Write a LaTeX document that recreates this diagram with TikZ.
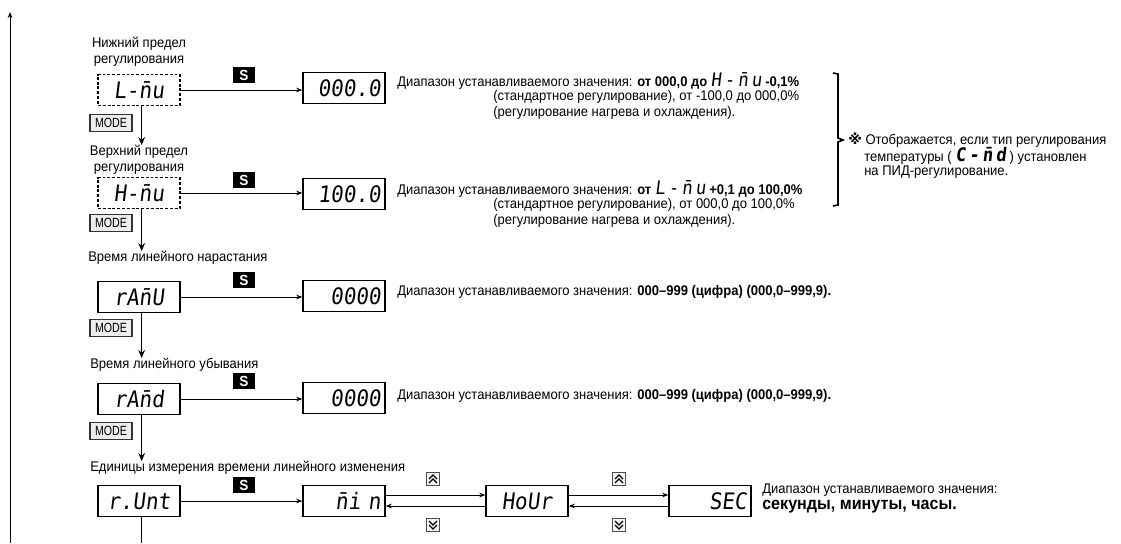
\documentclass[tikz,border=0pt]{standalone}
\usepackage{fontspec}
\setmainfont[FakeStretch=0.93]{Liberation Sans}
\newfontfamily\narrowfont[FakeStretch=0.8]{Liberation Sans}
\newfontfamily\segfont[FakeSlant=0.12,FakeStretch=0.92]{DejaVu Sans Mono}
\newfontfamily\symfont{DejaVu Sans}
\usetikzlibrary{arrows.meta}
\newcommand\nb{\={n}}
\begin{document}
\begin{tikzpicture}[x=0.75pt,y=-0.75pt,
  every node/.style={inner sep=0pt},
  txt/.style={anchor=west,font=\fontsize{10.5}{12}\selectfont},
  lab/.style={font=\fontsize{10.5}{12}\selectfont,align=center},
  disp/.style={draw,line width=1.1pt,minimum height=23pt,text width=55pt,inner xsep=3.25pt,
     font=\segfont\fontsize{17}{17}\selectfont},
  dispc/.style={disp,align=center},
  dispr/.style={disp,align=right},
  dashbox/.style={dispc,dash pattern=on 2.2pt off 1.4pt},
  modebtn/.style={draw=black!80,line width=0.9pt,fill=black!7,minimum width=31.5pt,minimum height=12.5pt,
     font=\narrowfont\fontsize{10}{10}\selectfont},
  sbtn/.style={fill=black,text=white,minimum width=16.5pt,minimum height=12pt,font=\bfseries\fontsize{11}{11}\selectfont},
  arbtn/.style={draw=black!70,line width=0.8pt,fill=black!4,minimum width=10pt,minimum height=9.5pt},
  conn/.style={line width=0.75pt,-{Stealth[length=4.5pt,width=3.5pt]}},
  darrow/.style={line width=0.9pt,-{Stealth[length=6pt,width=5pt]}},
  chev/.style={line width=1pt,line join=miter},
  seginl/.style={}
]
\useasboundingbox (0,0) rectangle (1121,543);
% left frame line
\coordinate (ltop) at (10,12);
\coordinate (lbot) at (10,543);
\draw[conn] (lbot) -- (ltop);
% row 1
\node[lab] (lab1) at (139,52) {Нижний предел\\регулирования};
\node[dashbox] (L) at (139,90) {L-\nb u};
\node[sbtn] (S1) at (244,75) {S};
\node[dispr] (V1) at (344,88) {000.0};
\node[modebtn] (M1) at (111,123) {MODE};
\draw[conn] (L.east) -- (L.east -| V1.west);
% row 2
\node[lab] (lab2) at (139,160) {Верхний предел\\регулирования};
\draw[darrow] ([xshift=2pt]L.south) -- ([xshift=2pt]L.south |- lab2.north);
\node[dashbox] (H) at (139,193) {H-\nb u};
\node[sbtn] (S2) at (244,180) {S};
\node[dispr] (V2) at (344,194) {100.0};
\node[modebtn] (M2) at (111,223) {MODE};
\draw[conn] (H.east) -- (H.east -| V2.west);
% row 3
\node[txt] (lab3) at (88,258) {Время линейного нарастания};
\draw[darrow] ([xshift=2pt]H.south) -- ([xshift=2pt]H.south |- lab3.north);
\node[dispc] (RU) at (139,297) {rA\nb U};
\node[sbtn] (S3) at (244,280) {S};
\node[dispr] (V3) at (344,296) {0000};
\node[modebtn] (M3) at (111,328) {MODE};
\draw[conn] (RU.east) -- (RU.east -| V3.west);
% row 4
\node[txt] (lab4) at (90,365) {Время линейного убывания};
\draw[darrow] ([xshift=2pt]RU.south) -- ([xshift=2pt]RU.south |- lab4.north);
\node[dispc] (RD) at (139,399) {rA\nb d};
\node[sbtn] (S4) at (244,381) {S};
\node[dispr] (V4) at (344,398) {0000};
\node[modebtn] (M4) at (111,431) {MODE};
\draw[conn] (RD.east) -- (RD.east -| V4.west);
% row 5
\node[txt] (lab5) at (90,468) {Единицы измерения времени линейного изменения};
\draw[darrow] ([xshift=2pt]RD.south) -- ([xshift=2pt]RD.south |- lab5.north);
\node[dispc] (RT) at (139,501) {r.Unt};
\node[sbtn] (S5) at (244,485) {S};
\node[dispr] (MN) at (344,501) {\nb i n};
\node[dispc] (HR) at (527,501) {HoUr};
\node[dispr] (SE) at (710,501) {SEC};
\draw[conn] (RT.east) -- (RT.east -| MN.west);
\coordinate (rbot) at (142,543);
\draw[line width=0.9pt] ([xshift=2pt]RT.south) -- ([xshift=2pt]RT.south |- rbot);
% double arrows
\draw[conn] ([yshift=4.5pt]MN.east) -- ([yshift=4.5pt]MN.east -| HR.west);
\draw[conn] ([yshift=-3.75pt]HR.west) -- ([yshift=-3.75pt]HR.west -| MN.east);
\draw[conn] ([yshift=4.5pt]HR.east) -- ([yshift=4.5pt]HR.east -| SE.west);
\draw[conn] ([yshift=-3.75pt]SE.west) -- ([yshift=-3.75pt]SE.west -| HR.east);
\node[arbtn] (U1) at (433,479) {};
\node[arbtn] (D1) at (433,525) {};
\node[arbtn] (U2) at (619,479) {};
\node[arbtn] (D2) at (619,525) {};
\foreach \b in {U1,U2}{
  \draw[chev] ([shift={(-4,0)}]\b.center) -- ([shift={(0,-4)}]\b.center) -- ([shift={(4,0)}]\b.center);
  \draw[chev] ([shift={(-4,4)}]\b.center) -- ([shift={(0,0)}]\b.center) -- ([shift={(4,4)}]\b.center);
}
\foreach \b in {D1,D2}{
  \draw[chev] ([shift={(-4,0)}]\b.center) -- ([shift={(0,4)}]\b.center) -- ([shift={(4,0)}]\b.center);
  \draw[chev] ([shift={(-4,-4)}]\b.center) -- ([shift={(0,0)}]\b.center) -- ([shift={(4,-4)}]\b.center);
}
% texts
\node[txt] (t11) at (397,81) {Диапазон устанавливаемого значения: \textbf{от 000,0 до} {\segfont\fontsize{14}{14}\selectfont H\,-\,\nb\,u} \textbf{-0,1\%}};
\node[txt] (t12) at (493,97) {(стандартное регулирование), от -100,0 до 000,0\%};
\node[txt] (t13) at (493,113) {(регулирование нагрева и охлаждения).};
\node[txt] (t21) at (397,189) {Диапазон устанавливаемого значения: \textbf{от} {\segfont\fontsize{14}{14}\selectfont L\,-\,\nb\,u} \textbf{+0,1 до 100,0\%}};
\node[txt] (t22) at (493,205) {(стандартное регулирование), от 000,0 до 100,0\%};
\node[txt] (t23) at (493,221) {(регулирование нагрева и охлаждения).};
\node[txt] (t3) at (397,292) {Диапазон устанавливаемого значения: \textbf{000–999 (цифра) (000,0–999,9).}};
\node[txt] (t4) at (397,396) {Диапазон устанавливаемого значения: \textbf{000–999 (цифра) (000,0–999,9).}};
\node[txt] (t51) at (762,490) {Диапазон устанавливаемого значения:};
\node[txt,font=\bfseries\fontsize{13}{14}\selectfont] (t52) at (762,507) {секунды, минуты, часы.};
% bracket
\draw[line width=1.2pt] (833,73) -- (838,74) -- (838,138) -- (843,140) -- (838,142) -- (838,205) -- (833,206);
\node[txt] (n1) at (848,140) {{\symfont\bfseries ※}\ Отображается, если тип регулирования};
\node[txt] (n2) at (864,156) {температуры ( {\segfont\bfseries\fontsize{14}{14}\selectfont C\,-\,\nb\,d} ) установлен};
\node[txt] (n3) at (864,172) {на ПИД-регулирование.};
\end{tikzpicture}
\end{document}
